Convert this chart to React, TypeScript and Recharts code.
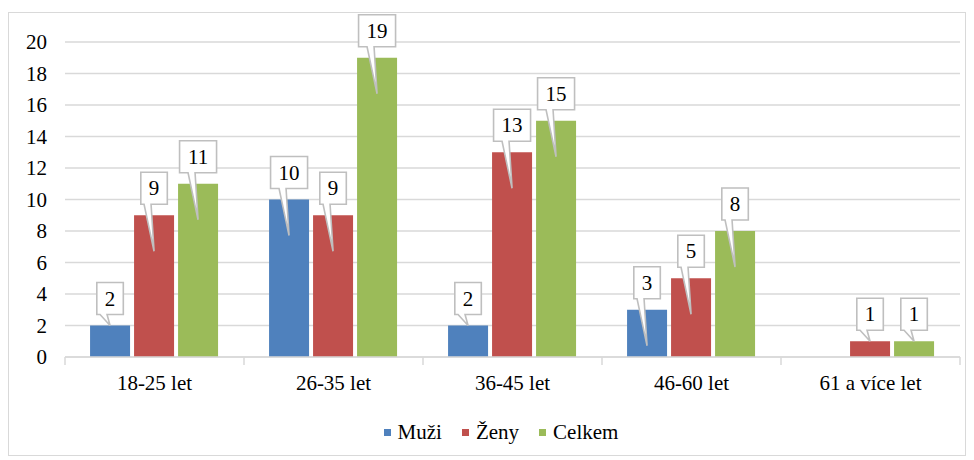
import { BarChart, Bar, XAxis, YAxis, CartesianGrid, Legend, LabelList } from "recharts";

const categories = ["18-25 let", "26-35 let", "36-45 let", "46-60 let", "61 a více let"];
const muzi = [2, 10, 2, 3, 0];
const zeny = [9, 9, 13, 5, 1];
const celkem = [11, 19, 15, 8, 1];
const yTicks = [0, 2, 4, 6, 8, 10, 12, 14, 16, 18, 20];

const series = [
  { key: "muzi", name: "Muži", color: "#4f81bd" },
  { key: "zeny", name: "Ženy", color: "#c0504d" },
  { key: "celkem", name: "Celkem", color: "#9bbb59" },
];

const data = categories.map((name, i) => ({
  name,
  muzi: muzi[i],
  zeny: zeny[i],
  celkem: celkem[i],
}));

const FONT = "Times New Roman, Liberation Serif, Tinos, serif";
const W = 956;
const H = 442;
const MARGIN = { top: 29, right: 5, left: 0, bottom: 11 };
const Y_W = 56;
const BAND = (W - MARGIN.left - MARGIN.right - Y_W) / categories.length;

const CategoryTick = (props: any) => {
  const { x, y, payload, index } = props;
  const half = BAND / 2;
  return (
    <g>
      <line x1={x - half} x2={x - half} y1={y} y2={y + 8} stroke="#d9d9d9" strokeWidth={1.5} />
      {index === categories.length - 1 && (
        <line x1={x + half} x2={x + half} y1={y} y2={y + 8} stroke="#d9d9d9" strokeWidth={1.5} />
      )}
      <text x={x} y={y + 33} textAnchor="middle" fontFamily={FONT} fontSize={21} fill="#000">
        {payload.value}
      </text>
    </g>
  );
};

// Excel style callout: box above the bar, wedge pointing into it
const Callout = (props: any) => {
  const vb = props.viewBox || {};
  const x = props.x ?? vb.x;
  const y = props.y ?? vb.y;
  const width = props.width ?? vb.width;
  const height = props.height ?? vb.height;
  const value = props.value;
  if (!value) return null;
  const text = String(value);
  const cx = x + width / 2;
  const bw = text.length * 10.5 + 16;
  const bh = 32;
  const bottom = y - 11;
  const top = bottom - bh;
  const left = cx - bw / 2;
  const right = cx + bw / 2;
  const tipY = height > 40 ? y + 36 : y;
  const d = `M${left},${top} H${right} V${bottom} H${cx - 3} L${cx},${tipY} L${cx - 10},${bottom} H${left} Z`;
  return (
    <g>
      <path d={d} fill="#fff" stroke="#bfbfbf" strokeWidth={1.6} />
      <text x={cx} y={top + bh / 2 + 7} textAnchor="middle" fontFamily={FONT} fontSize={21} fill="#000">
        {text}
      </text>
    </g>
  );
};

const LegendContent = () => (
  <div style={{ display: "flex", justifyContent: "center", paddingLeft: 33, fontFamily: FONT, fontSize: 21, color: "#000", lineHeight: "24px" }}>
    {series.map((s, i) => (
      <div key={s.key} style={{ display: "flex", alignItems: "center", marginLeft: i === 0 ? 0 : 20 }}>
        <span style={{ display: "inline-block", width: 7, height: 7, background: s.color, marginRight: 7 }} />
        <span>{s.name}</span>
      </div>
    ))}
  </div>
);

export default function App() {
  return (
    <div style={{ marginTop: 4, width: W, height: H, border: "1px solid #d9d9d9", background: "#fff", fontFamily: FONT }}>
      <BarChart width={W} height={H} data={data} margin={MARGIN} barCategoryGap="14%" barGap={4}>
        <CartesianGrid vertical={false} stroke="#d9d9d9" strokeWidth={1.5} />
        <XAxis
          dataKey="name"
          axisLine={{ stroke: "#d9d9d9", strokeWidth: 1.5 }}
          tickLine={false}
          tickSize={0}
          tickMargin={0}
          height={63}
          interval={0}
          tick={<CategoryTick />}
        />
        <YAxis
          domain={[0, 20]}
          ticks={yTicks}
          width={Y_W}
          axisLine={false}
          tickLine={false}
          tickSize={0}
          tickMargin={18}
          tick={{ fontFamily: FONT, fontSize: 21, fill: "#000" }}
          interval={0}
        />
        <Legend verticalAlign="bottom" content={<LegendContent />} />
        {series.map((s) => (
          <Bar key={s.key} dataKey={s.key} name={s.name} fill={s.color} isAnimationActive={false}>
            <LabelList dataKey={s.key} content={<Callout />} />
          </Bar>
        ))}
      </BarChart>
    </div>
  );
}
